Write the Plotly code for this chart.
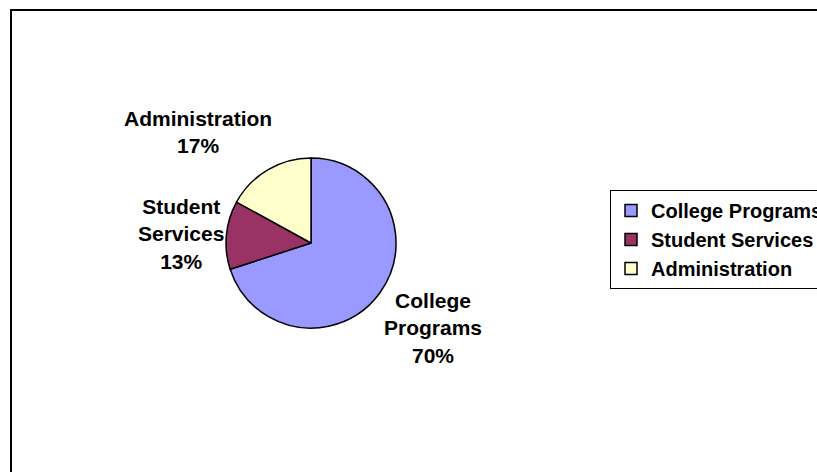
import plotly.graph_objects as go

categories = ["College Programs", "Student Services", "Administration"]
wrapped_labels = ["College<br>Programs", "Student<br>Services", "Administration"]
values = [70, 13, 17]
colors = ["#9999FF", "#993366", "#FFFFCC"]

# figure is a little wider than the 817px window so the legend/frame run off the right edge
W, H = 845, 472
FONT = "Liberation Sans, Arial, sans-serif"

cx, cy, r = 311, 243, 85

def px(x):
    return x / W

def py(y):
    return (H - y) / H

fig = go.Figure(
    go.Pie(
        labels=categories,
        values=values,
        textinfo="none",
        marker=dict(colors=colors, line=dict(color="black", width=1.5)),
        sort=False,
        direction="clockwise",
        rotation=0,
        domain=dict(x=[px(cx - r), px(cx + r)], y=[py(cy + r), py(cy - r)]),
        showlegend=True,
        hoverinfo="label+percent",
    )
)

# outside data labels (text built from the data arrays)
total = sum(values)
label_pos = [(433, 328), (181, 234), (198, 132)]
for lbl, v, (lx, ly) in zip(wrapped_labels, values, label_pos):
    fig.add_annotation(
        x=px(lx), y=py(ly), xref="paper", yref="paper",
        text=f"{lbl}<br>{round(v / total * 100)}%",
        showarrow=False, xanchor="center", yanchor="middle", align="center",
        font=dict(family=FONT, size=21, color="black", weight="bold"),
    )

fig.update_layout(
    width=W,
    height=H,
    margin=dict(l=0, r=0, t=0, b=0, pad=0, autoexpand=False),
    paper_bgcolor="white",
    plot_bgcolor="white",
    font=dict(family=FONT, color="black"),
    legend=dict(
        x=px(610),
        y=py(190),
        xanchor="left",
        yanchor="top",
        bordercolor="black",
        borderwidth=1,
        bgcolor="white",
        font=dict(family=FONT, size=20, color="black", weight="bold"),
    ),
    shapes=[
        dict(
            type="rect",
            xref="paper",
            yref="paper",
            x0=px(11),
            x1=px(838),
            y0=-0.02,
            y1=py(10),
            line=dict(color="black", width=2),
            layer="above",
        )
    ],
)

fig.write_html(
    "out.html",
    config={"displayModeBar": False},
    post_script="document.body.style.margin='0';document.body.style.overflow='hidden';document.documentElement.style.overflow='hidden';",
)
